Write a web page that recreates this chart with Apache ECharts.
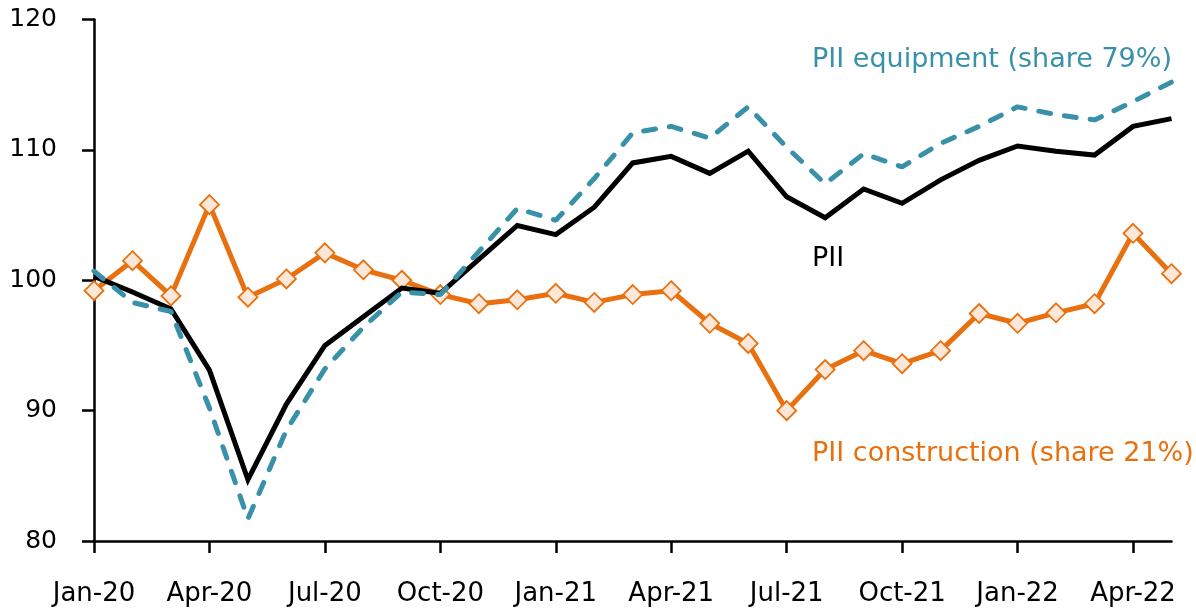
<!DOCTYPE html>
<html>
<head>
<meta charset="utf-8">
<script src="https://cdn.jsdelivr.net/npm/echarts@6/dist/echarts.min.js"></script>
<style>
  html, body { margin: 0; padding: 0; background: #fff; }
  #chart { width: 1196px; height: 608px; }
</style>
</head>
<body>
<div id="chart"></div>
<script>
// months Jan-20 .. May-22
const months = [
  'Jan-20', 'Feb-20', 'Mar-20', 'Apr-20', 'May-20', 'Jun-20', 'Jul-20', 'Aug-20', 'Sep-20', 'Oct-20', 'Nov-20', 'Dec-20',
  'Jan-21', 'Feb-21', 'Mar-21', 'Apr-21', 'May-21', 'Jun-21', 'Jul-21', 'Aug-21', 'Sep-21', 'Oct-21', 'Nov-21', 'Dec-21',
  'Jan-22', 'Feb-22', 'Mar-22', 'Apr-22', 'May-22'
]
const piiTotal = [100.3, 99.1, 97.8, 93.1, 84.7, 90.5, 95.0, 97.2, 99.4, 99.0, 101.6, 104.2,
  103.5, 105.6, 109.0, 109.5, 108.2, 109.9, 106.4, 104.8, 107.0, 105.9, 107.7, 109.2,
  110.3, 109.9, 109.6, 111.8, 112.4]
const piiEquipment = [100.7, 98.3, 97.6, 90.2, 81.7, 88.5, 93.2, 96.4, 99.1, 98.9, 102.2, 105.5,
  104.6, 107.8, 111.3, 111.8, 110.9, 113.3, 110.2, 107.4, 109.7, 108.7, 110.5, 111.8,
  113.3, 112.7, 112.3, 113.7, 115.2]
const piiConstruction = [99.2, 101.5, 98.8, 105.8, 98.7, 100.1, 102.1, 100.8, 100.0, 98.9, 98.2, 98.5,
  99.0, 98.3, 98.9, 99.2, 96.7, 95.15, 90.0, 93.15, 94.6, 93.6, 94.6, 97.45,
  96.7, 97.5, 98.2, 103.6, 100.5]
const yTicks = { min: 80, max: 120, step: 10 }

const TEAL = '#3891a8'
const ORANGE = '#e8700e'
const FONT = 'DejaVu Sans'

const chart = echarts.init(document.getElementById('chart'), null, { renderer: 'canvas' })

chart.setOption({
  animation: false,
  backgroundColor: '#fff',
  grid: {
    left: 94, right: 24.5, top: 19.5, bottom: 67,
    containLabel: false,
    outerBoundsMode: 'none'
  },
  xAxis: {
    type: 'category',
    data: months,
    boundaryGap: false,
    axisLine: { lineStyle: { color: '#000', width: 2.5 } },
    axisTick: { interval: 2, length: 12, lineStyle: { color: '#000', width: 2.5 } },
    axisLabel: { interval: 2, margin: 40, color: '#000', fontSize: 26, fontFamily: FONT },
    splitLine: { show: false }
  },
  yAxis: {
    type: 'value',
    min: yTicks.min,
    max: yTicks.max,
    interval: yTicks.step,
    axisLine: { show: true, lineStyle: { color: '#000', width: 2.5 } },
    axisTick: { show: true, length: 12, lineStyle: { color: '#000', width: 2.5 } },
    axisLabel: { margin: 37, color: '#000', fontSize: 25, fontFamily: FONT },
    splitLine: { show: false }
  },
  series: [
    {
      name: 'PII construction',
      type: 'line',
      data: piiConstruction,
      z: 2,
      symbol: 'diamond',
      symbolSize: 19,
      itemStyle: { color: '#fde7d8', borderColor: ORANGE, borderWidth: 1.8 },
      lineStyle: { color: ORANGE, width: 5 }
    },
    {
      name: 'PII',
      type: 'line',
      data: piiTotal,
      z: 3,
      showSymbol: false,
      lineStyle: { color: '#000', width: 5, join: 'miter' }
    },
    {
      name: 'PII equipment',
      type: 'line',
      data: piiEquipment,
      z: 4,
      showSymbol: false,
      lineStyle: { color: TEAL, width: 5, type: [12, 14], cap: 'round' }
    }
  ],
  graphic: [
    {
      type: 'text', left: 812, top: 46,
      style: { text: 'PII equipment (share 79%)', fill: TEAL, fontSize: 27, fontFamily: FONT }
    },
    {
      type: 'text', left: 812, top: 245,
      style: { text: 'PII', fill: '#000', fontSize: 27, fontFamily: FONT }
    },
    {
      type: 'text', left: 812, top: 440,
      style: { text: 'PII construction (share 21%)', fill: ORANGE, fontSize: 27, fontFamily: FONT }
    }
  ]
})
</script>
</body>
</html>
